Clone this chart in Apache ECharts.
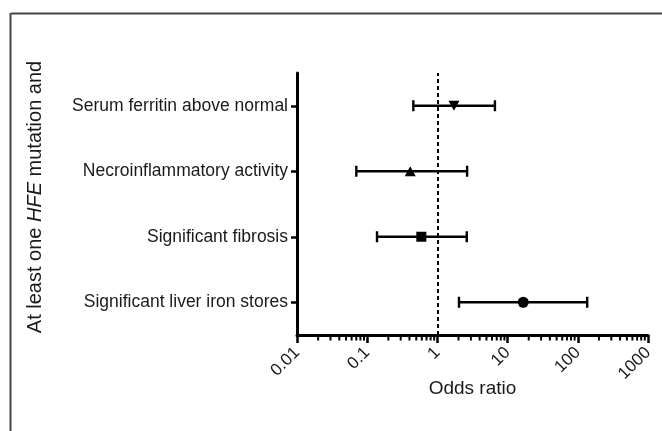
<!DOCTYPE html>
<html><head><meta charset="utf-8">
<script src="https://cdn.jsdelivr.net/npm/echarts@6/dist/echarts.min.js"></script>
<style>html,body{margin:0;padding:0;background:#fff}#c{width:662px;height:431px}</style>
</head><body><div id="c"></div>
<script>
var categories = ['Significant liver iron stores','Significant fibrosis','Necroinflammatory activity','Serum ferritin above normal'];
var oddsRatio = [16.7, 0.59, 0.41, 1.72];
var ciLow = [2.03, 0.138, 0.07, 0.454];
var ciHigh = [136, 2.62, 2.65, 6.6];
var markerShapes = ['circle','rect','triangle','triangle'];
var markerRotate = [0, 0, 0, 180];
var tickLabels = [0.01, 0.1, 1, 10, 100, 1000];
var minorTickValues = [];
[0.01,0.1,1,10,100].forEach(function(d){for(var k=2;k<=9;k++){minorTickValues.push(+(d*k).toPrecision(3));}});

var chart = echarts.init(document.getElementById('c'), null, {renderer:'canvas'});
var font = 'Liberation Sans, Arial, sans-serif';
var txt = '#1a1a1a';

var option = {
  animation:false,
  backgroundColor:'#fff',
  grid:{left:297,right:14,top:73,bottom:96,containLabel:false},
  xAxis:{
    type:'log', logBase:10, min:0.01, max:1000,
    name:'Odds ratio', nameLocation:'middle', nameGap:44, nameMoveOverlap:false,
    nameTextStyle:{fontFamily:font,fontSize:19,color:txt},
    axisLine:{show:true,onZero:false,lineStyle:{color:'#000',width:3}},
    axisTick:{show:true,length:8,lineStyle:{color:'#000',width:2.5}},
    minorTick:{show:false},
    splitLine:{show:false},
    axisLabel:{fontFamily:font,fontSize:17,color:txt,rotate:45,margin:15,
      formatter:function(v){return tickLabels.indexOf(+v.toPrecision(3))>=0?String(+v.toPrecision(3)):'';}}
  },
  yAxis:{
    type:'category', data:categories, boundaryGap:true,
    axisLine:{show:true,onZero:false,lineStyle:{color:'#000',width:3}},
    axisTick:{show:true,alignWithLabel:true,length:6,lineStyle:{color:'#000',width:2.5}},
    axisLabel:{fontFamily:font,fontSize:17.5,color:txt,margin:9},
    splitLine:{show:false}
  },
  graphic:[
    {type:'line',shape:{x1:11,y1:13.5,x2:662,y2:13.5},style:{stroke:'#444',lineWidth:2},silent:true},
    {type:'line',shape:{x1:10.5,y1:13,x2:10.5,y2:431},style:{stroke:'#444',lineWidth:2},silent:true},
    {type:'text',x:35,y:197,rotation:Math.PI/2,
      style:{text:'{a|At least one }{i|HFE}{a| mutation and}',align:'center',verticalAlign:'middle',
        rich:{a:{fontFamily:font,fontSize:20,fill:txt},i:{fontFamily:font,fontSize:20,fontStyle:'italic',fill:txt}}}}
  ],
  series:[
    {
      type:'custom', coordinateSystem:'cartesian2d', silent:true, clip:false,
      data:minorTickValues.map(function(v){return [v,0];}),
      encode:{x:0,y:1},
      renderItem:function(params,api){
        var p = api.coord([api.value(0),0]);
        var cs = params.coordSys;
        var y0 = cs.y+cs.height;
        return {type:'line',shape:{x1:p[0],y1:y0,x2:p[0],y2:y0+5.5},style:{stroke:'#000',lineWidth:2}};
      },
      markLine:{
        silent:true,symbol:'none',
        label:{show:false},
        lineStyle:{color:'#000',type:[4,3],width:2},
        data:[{xAxis:1}]
      }
    },
    {
      type:'custom', coordinateSystem:'cartesian2d', silent:true,
      data:categories.map(function(c,i){return [ciLow[i],ciHigh[i],i];}),
      encode:{x:[0,1],y:2},
      renderItem:function(params,api){
        var a = api.coord([api.value(0),api.value(2)]);
        var b = api.coord([api.value(1),api.value(2)]);
        var h = 5.5;
        var st = {stroke:'#000',lineWidth:2.4};
        return {type:'group',children:[
          {type:'line',shape:{x1:a[0],y1:a[1],x2:b[0],y2:b[1]},style:st},
          {type:'line',shape:{x1:a[0],y1:a[1]-h,x2:a[0],y2:a[1]+h},style:st},
          {type:'line',shape:{x1:b[0],y1:b[1]-h,x2:b[0],y2:b[1]+h},style:st}
        ]};
      }
    },
    {
      type:'scatter', silent:true,
      itemStyle:{color:'#000',opacity:1},
      data:categories.map(function(c,i){
        return {value:[oddsRatio[i],i],symbol:markerShapes[i],symbolRotate:markerRotate[i],
          symbolSize:markerShapes[i]==='rect'?10:(markerShapes[i]==='circle'?11:[11,10])};
      })
    }
  ]
};
chart.setOption(option);
</script></body></html>
